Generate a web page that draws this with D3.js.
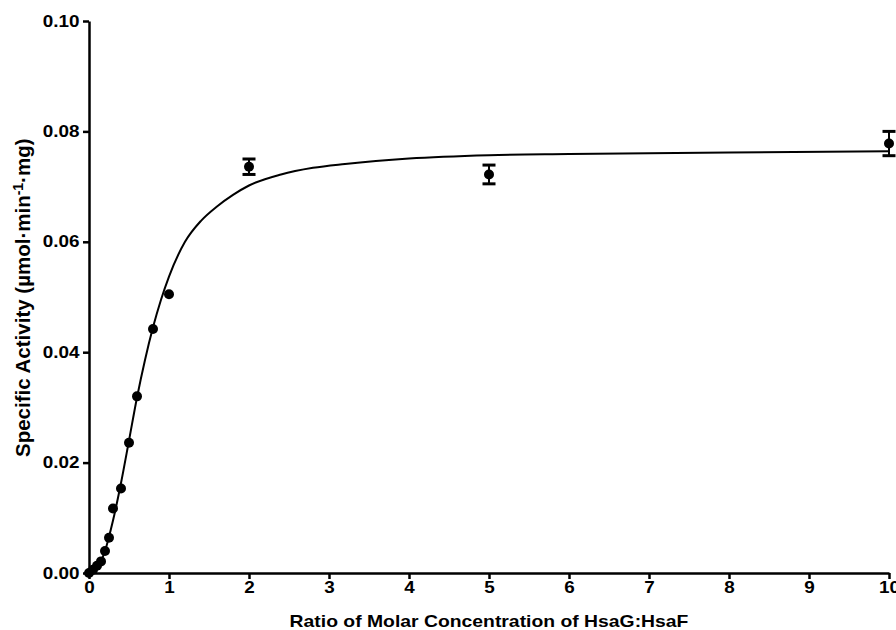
<!DOCTYPE html>
<html>
<head>
<meta charset="utf-8">
<script src="https://cdn.jsdelivr.net/npm/d3@7"></script>
<style>
  body { margin: 0; background: #fff; }
  text { font-family: "Liberation Sans", Arial, sans-serif; font-weight: bold; }
</style>
</head>
<body>
<svg></svg>
<script>
const wSvg = 896, hSvg = 630;

// measured points
const ratios = [0, 0.05, 0.1, 0.15, 0.2, 0.25, 0.3, 0.4, 0.5, 0.6, 0.8, 1, 2, 5, 10];
const activity = [0, 0.0006, 0.0013, 0.0021, 0.0040, 0.0064, 0.0117, 0.0153, 0.0236, 0.0320, 0.0442, 0.0505, 0.0736, 0.0722, 0.0778];
const errors = [0, 0, 0, 0, 0, 0, 0, 0, 0, 0, 0, 0, 0.0014, 0.0017, 0.0022];

// fitted curve
const fitX = [0, 0.1, 0.2, 0.3, 0.4, 0.5, 0.6, 0.7, 0.8, 0.9, 1.0, 1.2, 1.4, 1.6, 1.8, 2.0, 2.4, 2.8, 3.2, 4, 5, 6, 8, 10];
const fitY = [0, 0.0009, 0.0040, 0.0095, 0.0163, 0.0240, 0.0318, 0.0386, 0.0445, 0.0495, 0.0537, 0.0600, 0.0638, 0.0664, 0.0685, 0.0702, 0.0722, 0.0734, 0.0741, 0.0751, 0.0757, 0.0759, 0.0762, 0.0764];

const xTicks = [0, 1, 2, 3, 4, 5, 6, 7, 8, 9, 10];
const yTicks = [0, 0.02, 0.04, 0.06, 0.08, 0.10];

const margin = { left: 89, right: 7, top: 21, bottom: 57 };
const stretch = 1.18; // the original text is a bit wide

const svg = d3.select("svg")
    .attr("width", wSvg)
    .attr("height", hSvg)
    .style("display", "block");

const x = d3.scaleLinear().domain([0, 10]).range([margin.left, wSvg - margin.right]);
const y = d3.scaleLinear().domain([0, 0.10]).range([hSvg - margin.bottom, margin.top]);

svg.append("g")
    .attr("transform", `translate(0, ${y(0)})`)
    .call(d3.axisBottom(x).tickValues(xTicks).tickFormat(d3.format("d")).tickSize(6).tickSizeOuter(0).tickPadding(3));

svg.append("g")
    .attr("transform", `translate(${x(0)}, 0)`)
    .call(d3.axisLeft(y).tickValues(yTicks).tickFormat(d3.format(".2f")).tickSize(6).tickSizeOuter(0).tickPadding(2));

svg.selectAll(".domain, .tick line")
    .attr("stroke", "#000")
    .attr("stroke-width", 2.5);

svg.selectAll(".tick text")
    .attr("fill", "#000")
    .attr("transform", `scale(${stretch},1)`)
    .style("font-size", "16px");

// curve
const pts = fitX.map((d, i) => [d, fitY[i]]);
svg.append("path")
    .datum(pts)
    .attr("fill", "none")
    .attr("stroke", "#000")
    .attr("stroke-width", 2)
    .attr("d", d3.line().x(d => x(d[0])).y(d => y(d[1])).curve(d3.curveMonotoneX));

// data with error bars
const data = ratios.map((r, i) => ({ r: r, v: activity[i], e: errors[i] }));

const bars = svg.append("g");
data.filter(d => d.e > 0).forEach(d => {
    bars.append("line")
        .attr("x1", x(d.r)).attr("x2", x(d.r))
        .attr("y1", y(d.v - d.e)).attr("y2", y(d.v + d.e))
        .attr("stroke", "#000").attr("stroke-width", 2);
    [d.v - d.e, d.v + d.e].forEach(v => {
        bars.append("line")
            .attr("x1", x(d.r) - 6.5).attr("x2", x(d.r) + 6.5)
            .attr("y1", y(v)).attr("y2", y(v))
            .attr("stroke", "#000").attr("stroke-width", 3);
    });
});

svg.append("g").selectAll("circle")
    .data(data)
    .enter()
    .append("circle")
    .attr("cx", d => x(d.r))
    .attr("cy", d => y(d.v))
    .attr("r", 5)
    .attr("fill", "#000");

// axis titles
svg.append("text")
    .attr("transform", `translate(${(x(0) + x(10)) / 2}, 627) scale(${stretch + 0.03},1)`)
    .attr("text-anchor", "middle")
    .style("font-size", "16px")
    .text("Ratio of Molar Concentration of HsaG:HsaF");

const yTitle = svg.append("text")
    .attr("transform", `translate(30, 457) rotate(-90)`)
    .attr("text-anchor", "start")
    .style("font-size", "20.5px");
yTitle.append("tspan").text("Specific Activity (µmol·min");
yTitle.append("tspan").attr("dy", -7).style("font-size", "14px").text("-1");
yTitle.append("tspan").attr("dy", 7).text("·mg)");
</script>
</body>
</html>
